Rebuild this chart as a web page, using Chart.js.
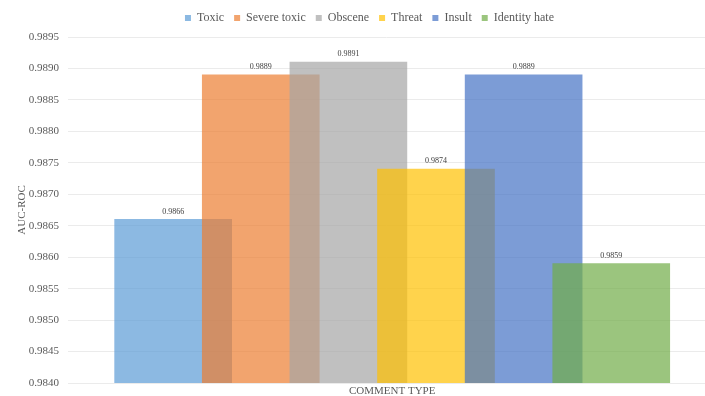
<!DOCTYPE html>
<html>
<head>
<meta charset="utf-8">
<title>AUC-ROC by comment type</title>
<script src="https://cdn.jsdelivr.net/npm/chart.js@4.4.1/dist/chart.umd.min.js"></script>
<style>
  html, body { margin: 0; padding: 0; background: #fff; }
</style>
</head>
<body>
<canvas id="aucChart" width="705" height="396"></canvas>
<script>
// AUC-ROC per comment type, one overlapping bar per label

const categories = ['COMMENT TYPE'];
const commentTypes = ['Toxic', 'Severe toxic', 'Obscene', 'Threat', 'Insult', 'Identity hate'];
const aucScores = [0.9866, 0.9889, 0.9891, 0.9874, 0.9889, 0.9859];
const yTicks = [0.9840, 0.9845, 0.9850, 0.9855, 0.9860, 0.9865, 0.9870, 0.9875, 0.9880, 0.9885, 0.9890, 0.9895];

const barColors = [
	'rgba(91, 155, 213, 0.7)',
	'rgba(237, 125, 49, 0.7)',
	'rgba(165, 165, 165, 0.7)',
	'rgba(255, 192, 0, 0.7)',
	'rgba(68, 114, 196, 0.7)',
	'rgba(112, 173, 71, 0.7)'
];

const serif = '"Liberation Serif", "Times New Roman", serif';
const textGrey = '#595959';

Chart.defaults.font.family = serif;

// small value captions above every bar
const valueLabels = {
	id: 'valueLabels',
	afterDatasetsDraw(chart) {
		const ctx = chart.ctx;
		ctx.save();
		ctx.font = '8px ' + serif;
		ctx.fillStyle = '#404040';
		ctx.textAlign = 'center';
		ctx.textBaseline = 'bottom';
		chart.data.datasets.forEach((ds, i) => {
			const bar = chart.getDatasetMeta(i).data[0];
			ctx.fillText(ds.data[0].y.toFixed(4), bar.x, bar.y - 4);
		});
		ctx.restore();
	}
};

// a bit more room under the legend, and nudge it right
const legendTweak = {
	id: 'legendTweak',
	beforeInit(chart) {
		const fit = chart.legend.fit;
		chart.legend.fit = function () {
			fit.call(this);
			this.height += 3;
		};
	},
	afterLayout(chart) {
		chart.legend.left += 17;
		chart.legend.right += 17;
	}
};

const datasets = commentTypes.map((name, i) => ({
	label: name,
	data: [{ x: i, y: aucScores[i] }],
	backgroundColor: barColors[i],
	borderWidth: 0,
	barThickness: 117,
	grouped: false,
	order: commentTypes.length - i // later series painted on top
}));

const groupCenter = (commentTypes.length - 1) / 2;

new Chart(document.getElementById('aucChart'), {
	type: 'bar',
	data: { datasets },
	plugins: [valueLabels, legendTweak],
	options: {
		responsive: false,
		animation: false,
		layout: { padding: { top: 2, right: 0, bottom: 0, left: 0 } },
		plugins: {
			tooltip: { enabled: false },
			legend: {
				position: 'top',
				labels: {
					boxWidth: 6,
					boxHeight: 6,
					padding: 10,
					color: textGrey,
					font: { family: serif, size: 12 },
					sort: (a, b) => a.datasetIndex - b.datasetIndex
				}
			}
		},
		scales: {
			x: {
				type: 'linear',
				offset: false,
				min: -1.2,
				max: 6.07,
				grid: { display: false, drawTicks: false },
				border: { display: false },
				afterBuildTicks: s => { s.ticks = [{ value: groupCenter }]; },
				ticks: {
					callback: () => categories[0],
					color: textGrey,
					font: { family: serif, size: 11 },
					padding: 2,
					maxRotation: 0
				},
				afterFit: s => { s.height = 13; }
			},
			y: {
				min: yTicks[0],
				max: yTicks[yTicks.length - 1],
				afterBuildTicks: s => { s.ticks = yTicks.map(v => ({ value: v })); },
				ticks: {
					callback: v => v.toFixed(4),
					color: textGrey,
					font: { family: serif, size: 11 },
					padding: 9
				},
				grid: { color: '#ebebeb', drawTicks: false },
				border: { display: false },
				title: {
					display: true,
					text: 'AUC-ROC',
					color: textGrey,
					font: { family: serif, size: 11 },
					padding: { top: 16, bottom: 0 }
				},
				afterFit: s => {
					s.width = 68;
					s.paddingTop = 0;
					s.paddingBottom = 0;
				}
			}
		}
	}
});
</script>
</body>
</html>
